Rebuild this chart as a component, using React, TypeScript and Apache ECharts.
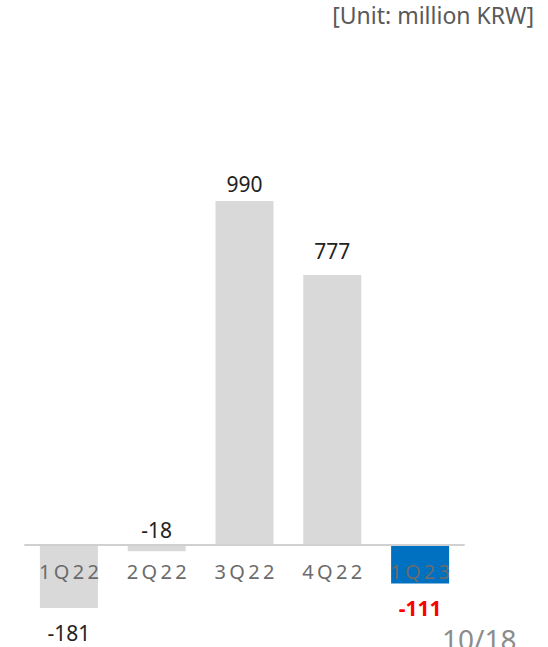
import React, { useEffect, useRef } from "react";
import * as echarts from "echarts";

const categories = ["1Q22", "2Q22", "3Q22", "4Q22", "1Q23"];
const values = [-181, -18, 990, 777, -111];
const barColors = ["#d9d9d9", "#d9d9d9", "#d9d9d9", "#d9d9d9", "#0070c0"];
const labelColors = ["#222222", "#222222", "#222222", "#222222", "#ff0000"];
const labelDistances = [15, 5, 7, 14, 14];
const unitText = "[Unit: million KRW]";
const pageText = "10/18";

const FONT = "'Noto Sans', 'Noto Sans CJK KR', sans-serif";

export default function App() {
  const ref = useRef<HTMLDivElement>(null);
  useEffect(() => {
    if (!ref.current) return;
    const chart = echarts.init(ref.current, undefined, { renderer: "svg" });
    chart.setOption({
      animation: false,
      backgroundColor: "#ffffff",
      grid: {
        left: 25,
        right: 84,
        top: 162.8,
        bottom: 32.5,
        containLabel: false,
        outerBoundsMode: "none",
      },
      xAxis: {
        type: "category",
        data: categories,
        position: "bottom",
        offset: -69.5,
        z: 5,
        axisLine: { onZero: false, lineStyle: { color: "#d0d0d0", width: 2 } },
        axisTick: { show: false },
        axisLabel: {
          margin: 16,
          color: "#6b6b6b",
          fontSize: 20,
          fontFamily: FONT,
          formatter: (v: string) => v.split("").join("\u2009"),
        },
      },
      yAxis: {
        type: "value",
        min: -200,
        max: 1100,
        show: false,
        splitLine: { show: false },
      },
      series: [
        {
          type: "bar",
          barWidth: 58,
          data: values.map((v, i) => ({
            value: v,
            itemStyle: { color: barColors[i] },
            label: {
              show: true,
              position: v >= 0 || i === 1 ? "top" : "bottom",
              distance: labelDistances[i],
              color: labelColors[i],
              fontWeight: i === 4 ? "bold" : "normal",
            },
          })),
          label: {
            show: true,
            fontSize: 21,
            fontFamily: FONT,
          },
        },
      ],
      graphic: [
        {
          type: "text",
          right: 14,
          top: 3,
          style: { text: unitText, fontSize: 23, fontFamily: FONT, fill: "#595959" },
        },
        {
          type: "text",
          left: 442,
          top: 625,
          style: { text: pageText, fontSize: 28, fontFamily: FONT, fill: "#8c8c8c" },
        },
      ],
    });
    return () => chart.dispose();
  }, []);
  return (
    <div
      ref={ref}
      style={{ position: "fixed", left: 0, top: 0, width: 548, height: 647 }}
    />
  );
}
